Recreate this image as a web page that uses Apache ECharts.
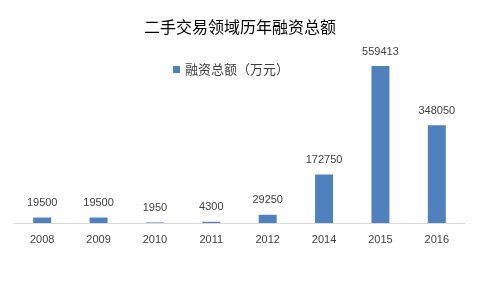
<!DOCTYPE html>
<html><head><meta charset="utf-8">
<script src="https://cdn.jsdelivr.net/npm/echarts@6/dist/echarts.min.js"></script>
<style>html,body{margin:0;padding:0;background:#fff}#c{width:480px;height:288px}</style>
</head><body><div id="c"></div>
<script>
const categories = ['2008','2009','2010','2011','2012','2014','2015','2016'];
const values = [19500,19500,1950,4300,29250,172750,559413,348050];
const seriesName = '融资总额（万元）';
const titleText = '二手交易领域历年融资总额';

const chart = echarts.init(document.getElementById('c'));
chart.setOption({
  animation: false,
  title: {text: titleText, left: 'center', top: 14,
    textStyle: {fontSize: 16, fontWeight: 'normal', color: '#000', fontFamily: 'Noto Sans CJK SC'}},
  legend: {data: [seriesName], left: 168, top: 58, icon: 'rect', itemWidth: 7, itemHeight: 7, itemGap: 4,
    textStyle: {fontSize: 13, color: '#404040', fontFamily: 'Noto Sans CJK SC'}},
  grid: {left: 14, right: 15, top: 66, bottom: 65},
  xAxis: {type: 'category', data: categories,
    axisLine: {lineStyle: {color: '#d9d9d9'}}, axisTick: {show: false},
    axisLabel: {fontSize: 11, color: '#404040', margin: 11, fontFamily: 'Liberation Sans'}},
  yAxis: {type: 'value', min: 0, max: 559413, show: false, splitLine: {show: false}},
  series: [{name: seriesName, type: 'bar', data: values, barWidth: 18,
    itemStyle: {color: '#4f81bd'},
    label: {show: true, position: 'top', distance: 9, fontSize: 11, color: '#404040', fontFamily: 'Liberation Sans'}}]
});
</script></body></html>
